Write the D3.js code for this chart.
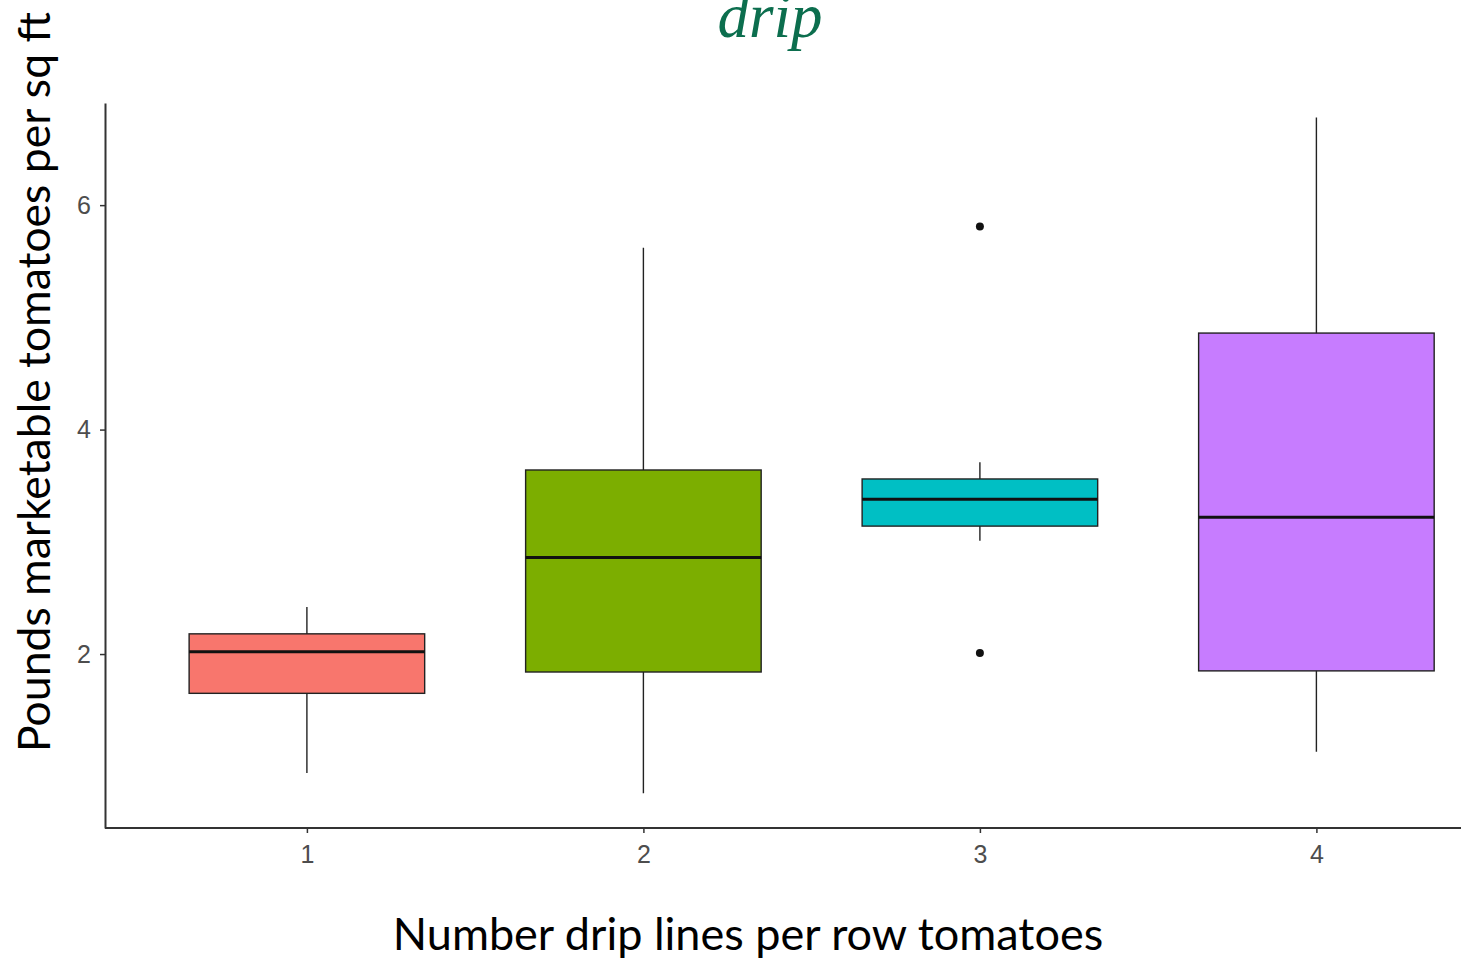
<!DOCTYPE html>
<html>
<head>
<meta charset="utf-8">
<script src="https://cdn.jsdelivr.net/npm/d3@7"></script>
<style>
  body { margin: 0; background: #fff; }
  svg { display: block; }
</style>
</head>
<body>
<svg width="1461" height="960"></svg>
<script>
// groups and five-number summaries
const groups = ['1', '2', '3', '4'];
const whiskerLow = [0.94, 0.76, 3.01, 1.13];
const q1 = [1.65, 1.84, 3.14, 1.85];
const median = [2.02, 2.86, 3.38, 3.22];
const q3 = [2.18, 3.64, 3.56, 4.86];
const whiskerHigh = [2.42, 5.62, 3.71, 6.78];
const outliers = [[], [], [5.81, 2.01], []];
const fills = ['#F8766D', '#7CAE00', '#00BFC4', '#C77CFF'];
const yTicks = [2, 4, 6];

const boxes = groups.map((g, i) => ({
  g: g, pos: i + 1, lo: whiskerLow[i], q1: q1[i], med: median[i],
  q3: q3[i], hi: whiskerHigh[i], out: outliers[i], fill: fills[i]
}));

const svg = d3.select('svg');

// plot area (right side runs off the image like the original)
const plotLeft = 105, plotTop = 103, plotBottom = 828;
const x = d3.scaleLinear().domain([0.4, 4.6]).range([plotLeft, plotLeft + 4.2 * 336.5]);
const y = d3.scaleLinear().domain([0.45, 6.91]).range([plotBottom, plotTop]);
const boxW = 0.7 * 336.5;

// title, cropped at the top as in the original
svg.append('text')
  .attr('x', 770).attr('y', 37)
  .attr('text-anchor', 'middle')
  .style('font-family', '"Liberation Serif", serif')
  .style('font-style', 'italic')
  .style('font-size', '63px')
  .style('fill', '#0C6E4E')
  .text('drip');

const plot = svg.append('g');

// whiskers
plot.selectAll('.whisker')
  .data(boxes).enter().append('line')
  .attr('x1', d => x(d.pos)).attr('x2', d => x(d.pos))
  .attr('y1', d => y(d.lo)).attr('y2', d => y(d.hi))
  .attr('stroke', '#222').attr('stroke-width', 1.4);

// boxes
plot.selectAll('.box')
  .data(boxes).enter().append('rect')
  .attr('x', d => x(d.pos) - boxW / 2)
  .attr('width', boxW)
  .attr('y', d => y(d.q3))
  .attr('height', d => y(d.q1) - y(d.q3))
  .attr('fill', d => d.fill)
  .attr('stroke', '#222').attr('stroke-width', 1.4);

// medians
plot.selectAll('.median')
  .data(boxes).enter().append('line')
  .attr('x1', d => x(d.pos) - boxW / 2).attr('x2', d => x(d.pos) + boxW / 2)
  .attr('y1', d => y(d.med)).attr('y2', d => y(d.med))
  .attr('stroke', '#111').attr('stroke-width', 3);

// outlier points
boxes.forEach(d => {
  plot.selectAll(null)
    .data(d.out).enter().append('circle')
    .attr('cx', x(d.pos)).attr('cy', v => y(v))
    .attr('r', 4).attr('fill', '#111');
});

// axes
const xAxis = d3.axisBottom(x).tickValues([1, 2, 3, 4]).tickFormat((d, i) => groups[i])
  .tickSize(5).tickPadding(12).tickSizeOuter(0);
const yAxis = d3.axisLeft(y).tickValues(yTicks).tickFormat(d3.format('d'))
  .tickSize(5).tickPadding(9).tickSizeOuter(0);

const gx = svg.append('g').attr('transform', `translate(0,${plotBottom})`).call(xAxis);
const gy = svg.append('g').attr('transform', `translate(${plotLeft},0)`).call(yAxis);

[gx, gy].forEach(g => {
  g.select('.domain').attr('stroke', '#333').attr('stroke-width', 2);
  g.selectAll('.tick line').attr('stroke', '#333').attr('stroke-width', 1.5);
  g.selectAll('.tick text')
    .style('font-family', '"Liberation Sans", Arial, sans-serif')
    .style('font-size', '25px')
    .style('fill', '#4D4D4D');
});
gx.select('.domain').attr('d', `M${plotLeft},0H1461`);

// axis titles
svg.append('text')
  .attr('transform', 'translate(50,382) rotate(-90)')
  .attr('text-anchor', 'middle')
  .style('font-family', 'Lato, "Open Sans", sans-serif')
  .style('font-size', '44.5px')
  .style('fill', '#000')
  .text('Pounds marketable tomatoes per sq ft');

svg.append('text')
  .attr('x', 748).attr('y', 950)
  .attr('text-anchor', 'middle')
  .style('font-family', 'Lato, "Open Sans", sans-serif')
  .style('font-size', '45px')
  .style('fill', '#000')
  .text('Number drip lines per row tomatoes');
</script>
</body>
</html>
